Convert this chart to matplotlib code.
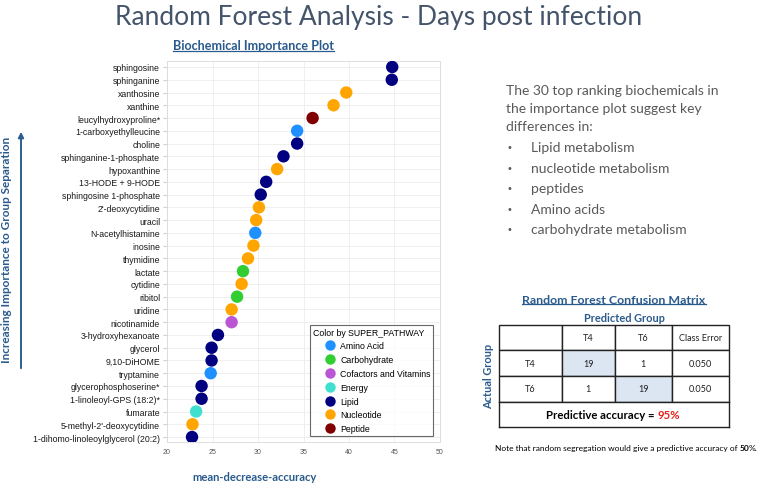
import matplotlib
matplotlib.use("Agg")
import matplotlib.pyplot as plt
from matplotlib.lines import Line2D
from matplotlib.patches import FancyArrowPatch

# ---------------- data ----------------
biochemicals = [
    "sphingosine", "sphinganine", "xanthosine", "xanthine", "leucylhydroxyproline*",
    "1-carboxyethylleucine", "choline", "sphinganine-1-phosphate", "hypoxanthine",
    "13-HODE + 9-HODE", "sphingosine 1-phosphate", "2'-deoxycytidine", "uracil",
    "N-acetylhistamine", "inosine", "thymidine", "lactate", "cytidine", "ribitol",
    "uridine", "nicotinamide", "3-hydroxyhexanoate", "glycerol", "9,10-DiHOME",
    "tryptamine", "glycerophosphoserine*", "1-linoleoyl-GPS (18:2)*", "fumarate",
    "5-methyl-2'-deoxycytidine", "1-dihomo-linoleoylglycerol (20:2)",
]
mean_decrease_accuracy = [
    44.75, 44.7, 39.7, 38.3, 36.0, 34.3, 34.3, 32.8, 32.1, 30.9, 30.3, 30.1, 29.8,
    29.7, 29.5, 28.9, 28.35, 28.2, 27.7, 27.1, 27.1, 25.6, 24.9, 24.9, 24.8, 23.8,
    23.8, 23.2, 22.8, 22.75,
]
super_pathway = [
    "Lipid", "Lipid", "Nucleotide", "Nucleotide", "Peptide", "Amino Acid", "Lipid",
    "Lipid", "Nucleotide", "Lipid", "Lipid", "Nucleotide", "Nucleotide", "Amino Acid",
    "Nucleotide", "Nucleotide", "Carbohydrate", "Nucleotide", "Carbohydrate",
    "Nucleotide", "Cofactors and Vitamins", "Lipid", "Lipid", "Lipid", "Amino Acid",
    "Lipid", "Lipid", "Energy", "Nucleotide", "Lipid",
]
pathways = ["Amino Acid", "Carbohydrate", "Cofactors and Vitamins", "Energy",
            "Lipid", "Nucleotide", "Peptide"]
pathway_colors = ["#1E90FF", "#32CD32", "#BA55D3", "#40E0D0", "#000080",
                  "#FFA500", "#800000"]
x_ticks = [20, 25, 30, 35, 40, 45, 50]

bullet_points = ["Lipid metabolism", "nucleotide metabolism", "peptides",
                 "Amino acids", "carbohydrate metabolism"]
groups = ["T4", "T6"]
confusion = [[19, 1], [1, 19]]
class_error = ["0.050", "0.050"]
accuracy = "95%"
random_accuracy = "50"

# ---------------- figure ----------------
W, H = 763, 485
fig = plt.figure(figsize=(W / 100, H / 100), dpi=100)

def fx(px):
    return px / W

def fy(py):
    return 1 - py / H

HEAD = "#2A5B8D"
CAL = "Lato"

fig.text(fx(379), fy(18), "Random Forest Analysis - Days post infection",
         ha="center", va="center", fontsize=19, color="#44546A", family=CAL)

# ---------------- importance plot ----------------
ax = fig.add_axes([fx(167), fy(443), fx(440) - fx(167), fy(62) - fy(443)])
color_map = dict(zip(pathways, pathway_colors))
ypos = list(range(len(biochemicals)))
ax.scatter(mean_decrease_accuracy, ypos,
           c=[color_map[p] for p in super_pathway], s=80, zorder=3, linewidths=0)
ax.set_xlim(x_ticks[0], x_ticks[-1])
ax.set_ylim(len(biochemicals) - 1 + 0.39, -0.47)
ax.set_xticks(x_ticks)
ax.set_yticks(ypos)
ax.set_yticklabels(biochemicals, family="Liberation Sans", fontsize=6.3, color="#1a1a1a")
ax.set_xticklabels([str(t) for t in x_ticks], family="Liberation Sans", fontsize=5, color="#555555")
ax.tick_params(axis="y", length=3, color="#d0d0d0", pad=2)
ax.tick_params(axis="x", length=0, pad=4)
ax.grid(True, color="#ececec", linewidth=0.6, zorder=0)
ax.set_axisbelow(True)
for s in ax.spines.values():
    s.set_color("#dddddd")
    s.set_linewidth(0.7)

handles = [Line2D([], [], marker="o", linestyle="", markersize=7.5,
                  markerfacecolor=c, markeredgewidth=0, label=p)
           for p, c in zip(pathways, pathway_colors)]
leg = ax.legend(handles=handles, title="Color by SUPER_PATHWAY", loc="lower right",
                bbox_to_anchor=(0.975, 0.016), borderaxespad=0, fancybox=False,
                frameon=True, prop={"family": "Liberation Sans", "size": 6.3},
                title_fontproperties={"family": "Liberation Sans", "size": 6.3},
                alignment="left", handletextpad=-0.7, labelspacing=0.55,
                borderpad=0.3, handlelength=3.8)
leg.get_frame().set_edgecolor("#444444")
leg.get_frame().set_linewidth(0.8)

head1 = fig.text(fx(173), fy(46), "Biochemical Importance Plot", ha="left", va="center",
                 fontsize=9.1, fontweight="bold", color=HEAD, family=CAL)
fig.text(fx(255), fy(478), "mean-decrease-accuracy", ha="center", va="center",
         fontsize=8.1, fontweight="bold", color=HEAD, family=CAL)
fig.text(fx(7), fy(250), "Increasing Importance to Group Separation", ha="center",
         va="center", rotation=90, fontsize=8.5, fontweight="bold", color=HEAD, family=CAL)
fig.patches.append(FancyArrowPatch((fx(21), fy(372)), (fx(21), fy(130)),
                                   transform=fig.transFigure, arrowstyle="-|>",
                                   mutation_scale=8, color="#2E5E8E", linewidth=1.4))

# ---------------- right text ----------------
intro = ["The 30 top ranking biochemicals in", "the importance plot suggest key",
         "differences in:"]
ys = [91, 109, 127]
for t, yy in zip(intro, ys):
    fig.text(fx(506), fy(yy), t, ha="left", va="center", fontsize=10,
             color="#595959", family=CAL)
for i, t in enumerate(bullet_points):
    yy = 148 + i * 20.6
    fig.text(fx(509), fy(yy), "\u2022", ha="center", va="center", fontsize=7,
             color="#595959", family="DejaVu Sans")
    fig.text(fx(531), fy(yy), t, ha="left", va="center", fontsize=10,
             color="#595959", family=CAL)

# ---------------- confusion matrix ----------------
head2 = fig.text(fx(614), fy(300), "Random Forest Confusion Matrix", ha="center",
                 va="center", fontsize=8.9, fontweight="bold", color=HEAD, family=CAL)
fig.text(fx(624), fy(318), "Predicted Group", ha="center", va="center",
         fontsize=7.9, fontweight="bold", color=HEAD, family=CAL)
fig.text(fx(489), fy(376), "Actual Group", ha="center", va="center", rotation=90,
         fontsize=7.9, fontweight="bold", color=HEAD, family=CAL)

tax = fig.add_axes([fx(499), fy(402.7), fx(729) - fx(499), fy(325.7) - fy(402.7)])
tax.axis("off")
cell_text = [[""] + groups + ["Class Error"]]
for g, row, ce in zip(groups, confusion, class_error):
    cell_text.append([g] + [str(v) for v in row] + [ce])
col_w = [62.7, 53.3, 56.7, 57.3]
tot = sum(col_w)
table = tax.table(cellText=cell_text, colWidths=[c / tot for c in col_w],
                  cellLoc="center", bbox=[0, 0, 1, 1])
table.auto_set_font_size(False)
for (r, c), cell in table.get_celld().items():
    cell.set_linewidth(1.0)
    cell.set_edgecolor("#222222")
    cell.get_text().set_fontsize(6.6)
    cell.get_text().set_family(CAL)
    cell.get_text().set_color("#222222")
    if r >= 1 and c >= 1 and r == c:
        cell.set_facecolor("#DCE6F2")

aax = fig.add_axes([fx(499), fy(428), fx(729) - fx(499), fy(402.7) - fy(428)])
aax.set_xticks([])
aax.set_yticks([])
for s in aax.spines.values():
    s.set_linewidth(1.0)
    s.set_color("#222222")
fig.text(fx(657.5), fy(415.5), "Predictive accuracy = ", ha="right", va="center",
         fontsize=8.2, fontweight="bold", color="black", family=CAL)
fig.text(fx(657.5), fy(415.5), accuracy, ha="left", va="center",
         fontsize=8.2, fontweight="bold", color="#E8201B", family=CAL)

n1 = fig.text(fx(495), fy(451), "Note that random segregation would give a predictive accuracy of ",
              ha="left", va="baseline", fontsize=6.0, color="black", family=CAL)
n2 = fig.text(0, 0, random_accuracy, fontsize=6.0, fontweight="bold", color="black",
              family=CAL, va="baseline")
n3 = fig.text(0, 0, "%.", fontsize=6.0, color="black", family=CAL, va="baseline")

fig.canvas.draw()
r = fig.canvas.get_renderer()
def place_after(prev, nxt, gap=0.0):
    bb = prev.get_window_extent(r)
    inv = fig.transFigure.inverted()
    x0, _ = inv.transform((bb.x1 + gap, bb.y0))
    nxt.set_position((x0, prev.get_position()[1]))
place_after(n1, n2)
fig.canvas.draw()
place_after(n2, n3, gap=-1.0)

for h in (head1, head2):
    bb = h.get_window_extent(r)
    inv = fig.transFigure.inverted()
    (x0, y0), (x1, _) = inv.transform([(bb.x0, bb.y0), (bb.x1, bb.y0)])
    fig.add_artist(Line2D([x0, x1], [y0 + 0.5 / H, y0 + 0.5 / H], transform=fig.transFigure,
                          color=HEAD, linewidth=0.9))

fig.savefig("out.png", dpi=100)
